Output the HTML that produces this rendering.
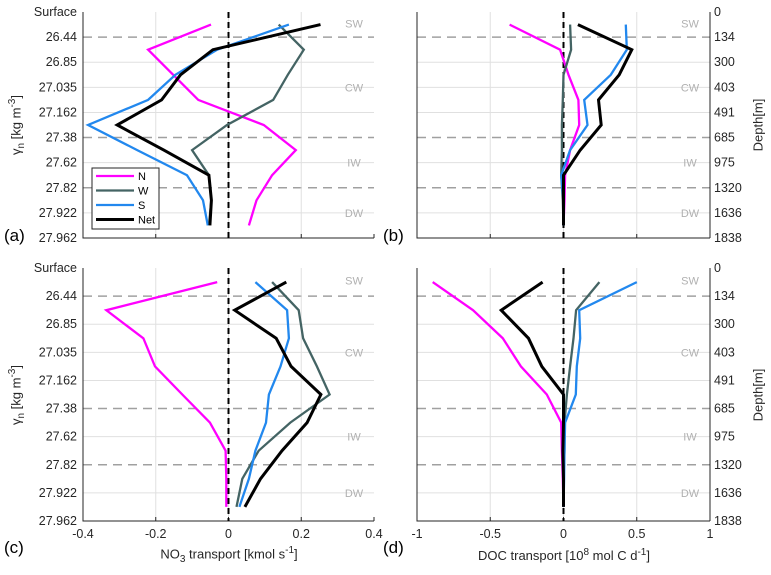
<!DOCTYPE html>
<html><head><meta charset="utf-8"><style>
body{margin:0;background:#fff;}
svg{display:block;font-family:"Liberation Sans",sans-serif;}
</style></head><body>
<svg id="fig" width="771" height="575" viewBox="0 0 771 575"></svg>
<script>
const yLevels = ["Surface","26.44","26.85","27.035","27.162","27.38","27.62","27.82","27.922","27.962"];
const depthLabels = ["0","134","300","403","491","685","975","1320","1636","1838"];
const seriesNames = ["N","W","S","Net"];
const no3TicksX = [-0.4,-0.2,0,0.2,0.4];
const docTicksX = [-1,-0.5,0,0.5,1];
const docTickLabels = ["-1","-0.5","0","0.5","1"];
// panel (a) NO3 subset 1
const aN = [-0.048,-0.221,-0.152,-0.083,0.097,0.185,0.12,0.077,0.056];
const aW = [0.138,0.207,0.163,0.123,-0.004,-0.1,-0.054,-0.047,-0.054];
const aS = [0.166,-0.031,-0.146,-0.221,-0.386,-0.251,-0.114,-0.07,-0.057];
const aNet = [0.253,-0.043,-0.132,-0.184,-0.306,-0.178,-0.054,-0.047,-0.051];
// panel (b) DOC subset 1
const bN = [-0.368,-0.023,0.034,0.102,0.107,0.045,0.011,0.007,0];
const bW = [0.045,0.052,0,-0.005,-0.011,-0.011,-0.016,-0.005,0];
const bS = [0.425,0.432,0.323,0.141,0.164,0.045,-0.016,0,0];
const bNet = [0.098,0.466,0.38,0.239,0.257,0.114,0,0,0];
// panel (c) NO3 subset 2
const cN = [-0.031,-0.336,-0.234,-0.202,-0.127,-0.051,-0.008,-0.006,-0.006];
const cW = [0.12,0.193,0.205,0.243,0.278,0.17,0.083,0.038,0.022];
const cS = [0.074,0.161,0.166,0.143,0.111,0.103,0.074,0.056,0.03];
const cNet = [0.159,0.017,0.131,0.172,0.254,0.216,0.147,0.088,0.045];
// panel (d) DOC subset 2
const dN = [-0.893,-0.618,-0.414,-0.291,-0.114,-0.016,-0.011,-0.005,0];
const dW = [0.245,0.086,0.068,0.045,0.023,0.007,0.007,0,0];
const dS = [0.5,0.107,0.114,0.091,0.084,0.011,0.007,0.004,0];
const dNet = [-0.143,-0.425,-0.239,-0.148,0,0,-0.004,0,0];

const colors = {N:"#ff00ff",W:"#446464",S:"#2288ee",Net:"#000000"};
const widths = {N:2.3,W:2.3,S:2.3,Net:3};
const NS="http://www.w3.org/2000/svg";
const svg=document.getElementById('fig');
function mk(tag,attrs,parent,text){const e=document.createElementNS(NS,tag);for(const k in attrs)e.setAttribute(k,attrs[k]);if(text!==undefined)e.textContent=text;(parent||svg).appendChild(e);return e;}

function panel(cfg){
  const g=mk('g',{});
  
  
  const {x0,x1,y0,y1,xmin,xmax}=cfg;
  const sx=v=>x0+(v-xmin)/(xmax-xmin)*(x1-x0);
  const dy=(y1-y0)/(yLevels.length-1);
  const syG=i=>y0+i*dy;
  const syP=i=>y0+(i+0.5)*dy;
  yLevels.forEach((l,i)=>{if(i>0&&i<yLevels.length-1){const dashed=(i==1||i==5||i==7);
    const ln=mk('line',{x1:x0,x2:x1,y1:syG(i),y2:syG(i),stroke:dashed?'#a0a0a0':'#e0e0e0','stroke-width':dashed?1.5:1,'stroke-dasharray':dashed?'9,6':'none'},g);
    
    }});
  cfg.ticks.forEach((t,i)=>{if(i>0&&i<cfg.ticks.length-1){const ln=mk('line',{x1:sx(t),x2:sx(t),y1:y0,y2:y1,stroke:'#e0e0e0','stroke-width':1},g);
    }});
  [["SW",0.45],["CW",3],["IW",6],["DW",8]].forEach(([t,i])=>{const e=mk('text',{x:x1-20,y:syG(i)+4,'font-size':11,fill:'#b0b0b0','text-anchor':'middle'},g,t);
    });
  const ax=mk('path',{d:`M${x0},${y0}V${y1}H${x1}`+(cfg.right?`M${x1},${y0}V${y1}`:''),stroke:'#262626',fill:'none','stroke-width':1},g);
  
  cfg.ticks.forEach((t,i)=>{mk('line',{x1:sx(t),x2:sx(t),y1:y1,y2:y1-4,stroke:'#262626'},g);
    if(cfg.showX){const e=mk('text',{x:sx(t),y:y1+17,'font-size':12.5,'text-anchor':'middle',fill:'#262626'},g,cfg.tickLabels?cfg.tickLabels[i]:String(t));
      }});
  yLevels.forEach((l,i)=>{
    if(cfg.right){const e=mk('text',{x:x1+4,y:syG(i)+4,'font-size':12.5,'text-anchor':'start',fill:'#262626'},g,depthLabels[i]);
      }
    else{const e=mk('text',{x:x0-6,y:syG(i)+4,'font-size':12.5,'text-anchor':'end',fill:'#262626'},g,l);
      }
  });
  const z=mk('line',{x1:sx(0),x2:sx(0),y1:y0,y2:y1,stroke:'#000','stroke-width':2,'stroke-dasharray':'6,4'},g);
  
  cfg.data.forEach((arr,k)=>{const nm=seriesNames[k];
    const d=arr.map((v,i)=>(i?'L':'M')+sx(v).toFixed(1)+','+syP(i).toFixed(1)).join('');
    const p=mk('path',{d,stroke:colors[nm],'stroke-width':widths[nm],fill:'none','stroke-linejoin':'miter'},g);
    });
  const lab=mk('text',{x:cfg.labX,y:cfg.labY,'font-size':17,fill:'#000'},g,'('+cfg.id+')');
  
}
panel({id:'a',x0:83,x1:374,y0:12,y1:238,xmin:-0.4,xmax:0.4,ticks:no3TicksX,showX:false,right:false,data:[aN,aW,aS,aNet],labX:4,labY:241});
panel({id:'b',x0:417,x1:710,y0:12,y1:238,xmin:-1,xmax:1,ticks:docTicksX,showX:false,right:true,data:[bN,bW,bS,bNet],labX:383,labY:241});
panel({id:'c',x0:83,x1:374,y0:268,y1:521,xmin:-0.4,xmax:0.4,ticks:no3TicksX,showX:true,right:false,data:[cN,cW,cS,cNet],labX:4,labY:553});
panel({id:'d',x0:417,x1:710,y0:268,y1:521,xmin:-1,xmax:1,ticks:docTicksX,tickLabels:docTickLabels,showX:true,right:true,data:[dN,dW,dS,dNet],labX:383,labY:553});

const lg=mk('g',{});

mk('rect',{x:92,y:168,width:67,height:61,fill:'#fff',stroke:'#262626','stroke-width':1},lg);
seriesNames.forEach((nm,i)=>{const y=176+i*14.5;
  const l=mk('line',{x1:96,x2:134,y1:y,y2:y,stroke:colors[nm],'stroke-width':widths[nm]},lg);
  
  const t=mk('text',{x:138,y:y+4,'font-size':11,fill:'#000'},lg,nm);
  });
</script>
<div style="position:absolute;left:0;top:0;width:771px;height:575px;pointer-events:none;font-family:'Liberation Sans',sans-serif;color:#262626;font-size:13px;">
  <div style="position:absolute;left:17px;top:125px;transform:translate(-50%,-50%) rotate(-90deg);white-space:nowrap;">γ<sub style="font-size:10px">n</sub> [kg m<sup style="font-size:10px">-3</sup>]</div>
  <div style="position:absolute;left:17px;top:395px;transform:translate(-50%,-50%) rotate(-90deg);white-space:nowrap;">γ<sub style="font-size:10px">n</sub> [kg m<sup style="font-size:10px">-3</sup>]</div>
  <div style="position:absolute;left:758px;top:125px;transform:translate(-50%,-50%) rotate(-90deg);white-space:nowrap;">Depth[m]</div>
  <div style="position:absolute;left:758px;top:395px;transform:translate(-50%,-50%) rotate(-90deg);white-space:nowrap;">Depth[m]</div>
  <div style="position:absolute;left:229px;top:555px;transform:translate(-50%,-50%);white-space:nowrap;">NO<sub style="font-size:10px">3</sub> transport [kmol s<sup style="font-size:10px">-1</sup>]</div>
  <div style="position:absolute;left:564px;top:555px;transform:translate(-50%,-50%);white-space:nowrap;">DOC transport [10<sup style="font-size:10px">8</sup> mol C d<sup style="font-size:10px">-1</sup>]</div>
</div>
</body></html>
